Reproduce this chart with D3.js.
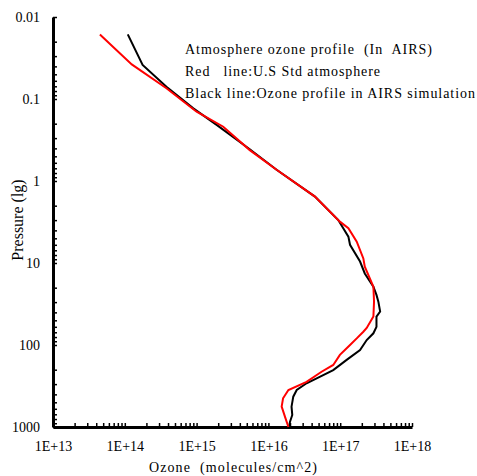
<!DOCTYPE html>
<html>
<head>
<meta charset="utf-8">
<script src="https://cdn.jsdelivr.net/npm/d3@7"></script>
<style>
  body { margin: 0; background: #fff; }
  text { font-family: "Liberation Serif", "Times New Roman", serif; white-space: pre; }
</style>
</head>
<body>
<div id="chart"></div>
<script>
const w = 477, h = 476

// data: ozone (molecules/cm^2) vs pressure
const redOzone = [4.5e13, 1.25e14, 3.8e14, 1.0e15, 2.35e15, 5.5e15, 1.3e16, 4.45e16, 9.9e16, 1.3e17, 1.7e17, 2.1e17, 2.2e17, 2.9e17, 2.96e17, 2.9e17, 2.34e17, 2.1e17, 1.7e17, 1.37e17, 9.9e16, 8.0e16, 5.5e16, 3.4e16, 1.9e16, 1.6e16, 1.53e16, 1.7e16, 1.9e16]
const redPressure = [0.0163, 0.0378, 0.074, 0.143, 0.218, 0.42, 0.73, 1.55, 3.13, 3.77, 5.5, 8.8, 11.1, 19.5, 29.6, 45, 62, 69, 83, 100, 132, 175, 212, 281, 354, 447, 565, 748, 1000]

const blackOzone = [1.1e14, 1.77e14, 3.8e14, 9.0e14, 1.9e15, 5.5e15, 1.3e16, 4.45e16, 9.4e16, 1.3e17, 1.37e17, 1.89e17, 2.2e17, 2.9e17, 3.2e17, 3.4e17, 3.6e17, 3.2e17, 3.2e17, 2.9e17, 2.34e17, 1.89e17, 1.23e17, 8.0e16, 4.7e16, 3.4e16, 2.48e16, 2.22e16, 2.1e16, 2.15e16, 2.0e16, 1.94e16]
const blackPressure = [0.0163, 0.0385, 0.071, 0.130, 0.207, 0.41, 0.73, 1.55, 2.99, 4.77, 6.0, 9.6, 13.4, 19.5, 24.5, 29.6, 39, 45, 60, 72, 87, 115, 152, 202, 255, 293, 354, 427, 565, 714, 861, 1000]

const xDomain = [1e13, 1e18]
const yDomain = [0.01, 1000]
const legendLines = [
    "Atmosphere ozone profile  (In  AIRS)",
    "Red   line:U.S Std atmosphere",
    "Black line:Ozone profile in AIRS simulation"
]
const legendWidths = [247, 195, 290]

//scales
const x = d3.scaleLog().domain(xDomain).range([53, 412])
const y = d3.scaleLog().domain(yDomain).range([17, 427])

const svg = d3.select("#chart").append("svg")
    .attr("width", w)
    .attr("height", h)

function allTicks(dom) {
    const t = []
    for (let e = Math.log10(dom[0]); e < Math.log10(dom[1]); e++) {
        for (let k = 1; k < 10; k++) t.push(k * Math.pow(10, e))
    }
    t.push(dom[1])
    return t
}
const isMajor = v => Math.abs(Math.log10(v) - Math.round(Math.log10(v))) < 1e-9

// y axis
svg.append("g")
    .attr("transform", "translate(53,0)")
    .call(d3.axisLeft(y)
        .tickValues(allTicks(yDomain))
        .tickSizeInner(-4).tickSizeOuter(0)
        .tickPadding(13)
        .tickFormat(d => isMajor(d) ? String(+d.toPrecision(3)) : ""))

// x axis
svg.append("g")
    .attr("transform", "translate(0,427)")
    .call(d3.axisBottom(x)
        .tickValues(allTicks(xDomain))
        .tickSizeInner(-4).tickSizeOuter(0)
        .tickPadding(14)
        .tickFormat(d => isMajor(d) ? "1E+" + Math.round(Math.log10(d)) : ""))

svg.selectAll(".domain").attr("stroke", "black").attr("stroke-width", 3)
svg.selectAll(".tick line").attr("stroke", "black").attr("stroke-width", 1.5)
svg.selectAll(".tick text")
    .attr("fill", "black")
    .style("font-family", "Liberation Serif")
    .style("font-size", "14px")

// lines
const line = d3.line()
    .x(d => x(d[0]))
    .y(d => y(d[1]))

svg.append("path")
    .datum(blackOzone.map((v, i) => [v, blackPressure[i]]))
    .attr("fill", "none")
    .attr("stroke", "black")
    .attr("stroke-width", 2)
    .attr("d", line)

svg.append("path")
    .datum(redOzone.map((v, i) => [v, redPressure[i]]))
    .attr("fill", "none")
    .attr("stroke", "#ff0000")
    .attr("stroke-width", 2)
    .attr("d", line)

// axis titles
svg.append("text")
    .attr("x", 233).attr("y", 472)
    .attr("text-anchor", "middle")
    .attr("font-size", 14)
    .attr("textLength", 168)
    .attr("lengthAdjust", "spacing")
    .text("Ozone  (molecules/cm^2)")

svg.append("text")
    .attr("transform", "translate(23,220) rotate(-90)")
    .attr("text-anchor", "middle")
    .attr("font-size", 16)
    .text("Pressure (lg)")

// legend text
svg.selectAll("text.legend")
    .data(legendLines)
    .enter()
    .append("text")
    .attr("class", "legend")
    .attr("x", 185)
    .attr("y", (d, i) => 54 + i * 22)
    .attr("font-size", 14)
    .attr("textLength", (d, i) => legendWidths[i])
    .attr("lengthAdjust", "spacing")
    .text(d => d)
</script>
</body>
</html>
